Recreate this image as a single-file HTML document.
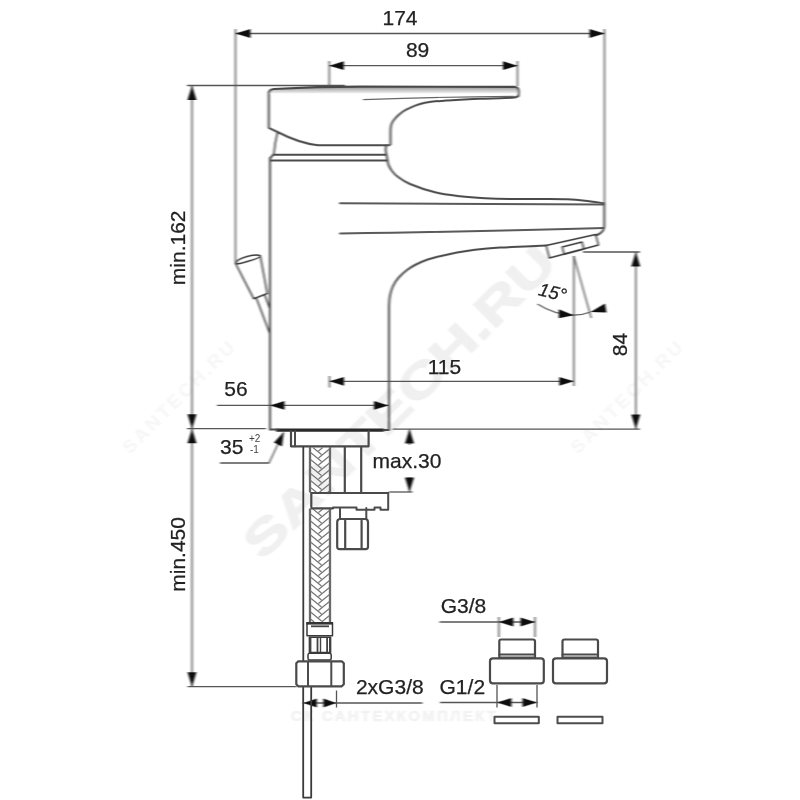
<!DOCTYPE html>
<html lang="ru">
<head>
<meta charset="utf-8">
<title>Смеситель — габаритный чертёж</title>
<style>
  html, body { margin: 0; padding: 0; background: #fff; }
  body { width: 800px; height: 800px; overflow: hidden; }
  svg { display: block; }
  text { font-family: "Liberation Sans", Arial, sans-serif; fill: #222; }
  #labels text { stroke: #222; stroke-width: 0.25; }
  .dim { stroke: #686868; stroke-width: 1.6; fill: none; }
  .dimh { stroke: #555; stroke-width: 1.3; fill: none; }
  .o { stroke: #4c4c4c; stroke-width: 2; fill: none; stroke-linejoin: round; stroke-linecap: round; }
  .ot { stroke: #666; stroke-width: 1.2; fill: none; stroke-linejoin: round; stroke-linecap: round; }
  .ok { stroke: #4a4a4a; stroke-width: 2.2; fill: none; stroke-linejoin: round; stroke-linecap: round; }
  .od { stroke: #3a3a3a; stroke-width: 1.5; fill: none; stroke-linejoin: round; stroke-linecap: round; }
  .oh { stroke: #5a5a5a; stroke-width: 2; fill: none; stroke-linecap: round; }
  .ar { fill: #111; stroke: none; }
  .wm { fill: #f0f0f0; font-weight: bold; }
  .wm2 { fill: #f6f6f6; font-weight: bold; }
  .t { font-size: 21px; }
  #labels text.ts { font-size: 10px; fill: #444; stroke: none; }

</style>
</head>
<body>
<svg width="800" height="800" viewBox="0 0 800 800">
  <defs>
    <linearGradient id="hg" x1="0" y1="86" x2="0" y2="93.5" gradientUnits="userSpaceOnUse">
      <stop offset="0" stop-color="#8a8a8a"/>
      <stop offset="1" stop-color="#f4f4f4"/>
    </linearGradient>
    <filter id="plain" x="0" y="0" width="800" height="800" filterUnits="userSpaceOnUse">
      <feOffset dx="0" dy="0"/>
    </filter>
    <filter id="soft" x="0" y="0" width="800" height="800" filterUnits="userSpaceOnUse">
      <feGaussianBlur stdDeviation="1 0.01"/>
    </filter>
  </defs>
  <rect width="800" height="800" fill="#fff"/>

  <!-- watermarks -->
  <g id="watermarks" filter="url(#soft)">
    <text class="wm" font-size="47" transform="translate(262.6 561.4) rotate(-45) scale(1.36 1)" stroke="#f0f0f0" stroke-width="1.2">SANTECH.RU</text>
    <text class="wm2" font-size="19" transform="translate(130 455) rotate(-45)" textLength="150">SANTECH.RU</text>
    <text class="wm2" font-size="19" transform="translate(578 455) rotate(-45)" textLength="150">SANTECH.RU</text>
    <text class="wm2" font-size="15" x="291" y="720.5" textLength="205" style="fill:#f2f2f2" stroke="#f2f2f2" stroke-width="0.6">СК САНТЕХКОМПЛЕКТ</text>
  </g>

  <g filter="url(#soft)">
  <!-- dimension lines -->
  <g id="dims">
    <!-- 174 -->
    <path class="dim" d="M235.5 29V264M604.5 29V204"/>
    <path class="dimh" d="M235.5 33.5H604.5"/>
    <!-- 89 -->
    <path class="dim" d="M329.3 61V86M517.5 61V86"/>
    <path class="dimh" d="M329.3 65.7H517.5"/>
    <!-- min.162 / min.450 -->
    <path class="dimh" d="M187 85.5H345"/>
    <path class="dim" d="M192 85.5V686.7"/>
    <path class="dimh" d="M187 428.6H266"/>
    <path class="dimh" d="M187.5 686.7H297"/>
    <!-- 84 -->
    <path class="dimh" d="M583 252H640"/>
    <path class="dim" d="M635.8 252V429"/>
    <path class="dimh" d="M392.5 429.2H640"/>
    <!-- 115 -->
    <path class="dim" d="M329.5 376V387.5M573.8 256V386"/>
    <path class="dimh" d="M329.5 381.3H573.8"/>
    <!-- 56 -->
    <path class="dimh" d="M217 405.4H389"/>
    <!-- 35 leader -->
    <path class="dimh" d="M220 463H269L283.5 432.5"/>
    <!-- max.30 -->
    <path class="dimh" d="M388.8 492H412.5"/>
    <path class="dim" d="M409.5 429V445M409.5 477V492"/>
    <!-- 2xG3/8 -->
    <path class="dimh" d="M303 703H422.5"/>
    <!-- G3/8 -->
    <path class="dimh" d="M439.5 622H535"/>
    <path class="dim" d="M498.8 617V637M535 617V637"/>
    <!-- G1/2 -->
    <path class="dimh" d="M440 702.5H537"/>
    <!-- 15 deg -->
    <path class="dimh" d="M573.8 256L591.3 318"/>
    <path class="dimh" d="M537.5 304Q555 315 573.8 315.2Q583 315 590.5 312"/>
  </g>

  <!-- arrows -->
  <g id="arrows" class="ar">
    <path d="M235.5 33.5l15 -4.4v8.8z"/>
    <path d="M604.5 33.5l-15 -4.4v8.8z"/>
    <path d="M329.3 65.7l14.5 -4.4v8.8z"/>
    <path d="M517.5 65.7l-14.5 -4.4v8.8z"/>
    <path d="M192 85.5l-4.5 14.5h9z"/>
    <path d="M192 428.8l-4.5 -14.5h9z"/>
    <path d="M192 428.8l-4.5 14.5h9z"/>
    <path d="M192 686.7l-4.5 -14.5h9z"/>
    <path d="M635.8 252l-4.5 14.5h9z"/>
    <path d="M635.8 429l-4.5 -14.5h9z"/>
    <path d="M329.5 381.3l14.5 -4.4v8.8z"/>
    <path d="M573.8 381.3l-14.5 -4.4v8.8z"/>
    <path d="M270 405.4l14.5 -4.4v8.8z"/>
    <path d="M388.5 405.4l-14.5 -4.4v8.8z"/>
    <path d="M409.5 429l-4.5 14.5h9z"/>
    <path d="M409.5 492l-4.5 -14.5h9z"/>
    <path d="M283.8 432l-9.8 10.5l8 4z"/>
    <path d="M303.6 703l13.2 -4.4v8.8z"/>
    <path d="M336.2 703l-12.8 -4.4v8.8z"/>
    <path d="M498.8 622l14.5 -4.4v8.8z"/>
    <path d="M535 622l-14.5 -4.4v8.8z"/>
    <path d="M497 702.5l14.5 -4.4v8.8z"/>
    <path d="M537 702.5l-14.5 -4.4v8.8z"/>
    <path d="M573.8 315.2l-15 -6v9z"/>
    <path d="M590.5 312l14.5 -8.5l1.5 9z"/>
  </g>

  <!-- faucet -->
  <g id="faucet">
    <!-- handle -->
    <path d="M269.5 92Q270 89.4 274 89C300 87.6 330 86.7 360 86.7L514 86.8Q518.5 87 518.6 91.5V93.5H269.5Z" fill="url(#hg)" stroke="none"/>
    <path class="ok" d="M269.3 92Q269.5 89.4 274 89C300 87.6 330 86.7 360 86.7L514 86.8"/>
    <path class="o" d="M268.8 92V127.8L277.5 132Q300 143.5 318 145.2H389.5"/>
    <path class="o" d="M514 86.8Q518.8 87 518.8 91.5Q518.8 95 518.3 96"/>
    <path class="o" d="M518.3 96.0C517.6 96.3 517.0 97.2 514.0 97.6C510.9 98.0 505.7 98.0 500.0 98.2C494.3 98.4 486.7 98.5 480.0 98.8C473.3 99.1 465.8 99.5 460.0 99.8C454.2 100.1 449.8 100.3 445.0 100.6C440.2 100.9 435.2 101.2 431.0 101.8C426.8 102.4 423.5 103.0 420.0 104.0C416.5 105.0 412.8 106.5 410.0 107.8C407.2 109.0 405.1 110.1 403.0 111.5C400.9 112.9 399.1 114.5 397.5 116.0C395.9 117.5 394.6 119.0 393.5 120.5C392.4 122.0 391.7 123.4 391.2 125.0C390.7 126.6 390.6 129.2 390.5 130.0V144.3"/>
    <path class="ot" d="M363.5 99.6Q440 96.8 514 96.3"/>
    <!-- neck and ring -->
    <path class="od" d="M277.5 132.5Q274.8 143 273.8 154.5"/>
    <path class="o" d="M273 154.8H386M270.5 160.4H387.5M273 154.8L270 158.5M386 145.5Q385 150 386.5 155L387.5 160"/>
    <!-- body -->
    <path class="o" d="M270 158.5V429.5"/>
    <path d="M276 430.2H384" stroke="#2a2a2a" stroke-width="3.2" fill="none"/><path class="o" d="M270 429.6H277M384 430H389"/>
    <path class="o" d="M389 429.5V306"/>
    <path class="o" d="M389.0 306.0C389.1 304.7 389.2 300.7 389.6 298.0C390.0 295.3 390.6 292.6 391.5 290.0C392.4 287.4 393.6 284.8 395.0 282.5C396.4 280.2 398.0 278.4 400.0 276.3C402.0 274.2 404.5 271.9 407.0 270.0C409.5 268.1 411.7 266.7 415.0 265.0C418.3 263.3 422.8 261.3 427.0 259.8C431.2 258.3 435.0 257.4 440.0 256.2C445.0 255.0 451.2 253.6 457.0 252.5C462.8 251.4 467.8 250.5 475.0 249.7C482.2 248.9 491.7 248.1 500.0 247.6C508.3 247.1 517.3 246.7 525.0 246.4C532.7 246.1 542.5 245.7 546.0 245.6"/>
    <!-- spout -->
    <path class="o" d="M387.3 160.5C387.6 161.3 388.0 163.8 388.8 165.5C389.6 167.2 390.6 169.2 392.0 171.0C393.4 172.8 394.5 174.3 397.5 176.5C400.5 178.7 403.8 181.4 410.0 184.0C416.2 186.6 426.7 190.2 435.0 192.3C443.3 194.4 451.7 195.3 460.0 196.3C468.3 197.3 476.7 197.8 485.0 198.2C493.3 198.6 500.8 198.8 510.0 198.9C519.2 199.0 530.5 198.9 540.0 199.0C549.5 199.1 559.5 199.0 567.0 199.3C574.5 199.6 578.9 200.0 585.0 200.7C591.1 201.3 600.7 202.8 603.8 203.2"/>
    <path class="oh" d="M340 203.3L604 204.4"/>
    <path class="oh" d="M340 233.6Q500 231 604 228"/>
    <path class="o" d="M604.3 204V226Q604.3 230.5 600 233.5L596 235.5"/>
    <!-- aerator -->
    <path class="od" d="M546.2 245.6L595.6 234.4L598.5 245L549.4 258Z"/>
    <path class="od" d="M564 253.8L562.2 247L582 242L583.8 248.8"/>
    <path class="od" d="M564 254.2L583.8 249"/>
    <!-- pop-up knob -->
    <path class="od" d="M236 263.5Q236 259.5 247 256.5Q258 254 260.3 255.8Q260.5 257.5 249 261Q239 264.2 236.2 264Z"/>
    <path class="od" d="M235.8 264L253.8 298.8L267.3 293.5L260.3 256"/>
    <path class="od" d="M256.5 298.5L269.6 333M265 295.5L269.6 308"/>
  </g>

  </g>

  <!-- dimension texts -->
  <g id="labels" class="t" filter="url(#plain)">
    <text x="400" y="25.2" text-anchor="middle">174</text>
    <text x="417.6" y="57" text-anchor="middle">89</text>
    <text transform="translate(184.5 247.8) rotate(-90)" text-anchor="middle">min.162</text>
    <text transform="translate(185 554.4) rotate(-90)" text-anchor="middle">min.450</text>
    <text transform="translate(627 344.6) rotate(-90)" text-anchor="middle">84</text>
    <text x="444.4" y="373.8" text-anchor="middle">115</text>
    <text x="236" y="396.3" text-anchor="middle">56</text>
    <text x="231.8" y="453.8" text-anchor="middle">35</text>
    <text class="ts" x="249" y="442">+2</text>
    <text class="ts" x="250" y="453">-1</text>
    <text x="407" y="468" text-anchor="middle">max.30</text>
    <text x="389.8" y="693.8" text-anchor="middle">2xG3/8</text>
    <text x="463.4" y="612.5" text-anchor="middle">G3/8</text>
    <text x="462.3" y="693.8" text-anchor="middle">G1/2</text>
    <text transform="translate(537.5 295) rotate(14)" font-style="italic" font-size="18.5">15°</text>
  </g>

  <!-- under-sink parts -->
  <g id="mount">
    <path class="ok" d="M291 431V446.3H368.6V431"/>
    <path class="o" d="M295 431V446.3"/>
    <!-- rigid pipe -->
    <path class="od" style="stroke-width:1.8" d="M303.3 447V661M303.2 687V797.6H311.2V687"/>
    <path class="dimh" d="M336.5 690.5V707.5M497 685V707.5M537 685V707.5"/>
    <!-- hose -->
    <path stroke="#6a6a6a" stroke-width="2.3" fill="none" d="M310 447V492.5M330 447V492.5M310 508.5V622M330 508.5V622"/>
    <path stroke="#777" stroke-width="1.2" fill="none" d="M322.8 447.5 L318.5 451.0M312.9 447.5 L321.5 454.5M329.5 449.0 L318.5 458.0M310.5 452.5 L321.5 461.5M329.5 456.0 L318.5 465.0M310.5 459.5 L321.5 468.5M329.5 463.0 L318.5 472.0M310.5 466.5 L321.5 475.5M329.5 470.0 L318.5 479.0M310.5 473.5 L321.5 482.5M329.5 477.0 L318.5 486.0M310.5 480.5 L321.5 489.5M329.5 484.0 L319.4 492.3M310.5 487.5 L316.4 492.3M329.5 491.0 L327.9 492.3M322.8 509.0 L318.5 512.5M312.9 509.0 L321.5 516.0M329.5 510.5 L318.5 519.5M310.5 514.0 L321.5 523.0M329.5 517.5 L318.5 526.5M310.5 521.0 L321.5 530.0M329.5 524.5 L318.5 533.5M310.5 528.0 L321.5 537.0M329.5 531.5 L318.5 540.5M310.5 535.0 L321.5 544.0M329.5 538.5 L318.5 547.5M310.5 542.0 L321.5 551.0M329.5 545.5 L318.5 554.5M310.5 549.0 L321.5 558.0M329.5 552.5 L318.5 561.5M310.5 556.0 L321.5 565.0M329.5 559.5 L318.5 568.5M310.5 563.0 L321.5 572.0M329.5 566.5 L318.5 575.5M310.5 570.0 L321.5 579.0M329.5 573.5 L318.5 582.5M310.5 577.0 L321.5 586.0M329.5 580.5 L318.5 589.5M310.5 584.0 L321.5 593.0M329.5 587.5 L318.5 596.5M310.5 591.0 L321.5 600.0M329.5 594.5 L318.5 603.5M310.5 598.0 L321.5 607.0M329.5 601.5 L318.5 610.5M310.5 605.0 L321.5 614.0M329.5 608.5 L318.5 617.5M310.5 612.0 L321.5 621.0M329.5 615.5 L321.6 622.0M310.5 619.0 L314.2 622.0"/>
    <!-- stud -->
    <path class="ok" d="M344.8 447V492.5M361.2 447V492.5"/>
    <!-- plate -->
    <path class="ok" d="M311.5 493H388.3"/>
    <path class="ok" d="M311.3 493V507"/>
    <path class="ok" d="M311.5 508.3H333"/><path class="o" d="M333 507.4H356.5V509.8H374.5V507.5H380.5V509.8H388.2V493"/>
    <!-- nut -->
    <path class="o" d="M340 508V519H366.3V508"/>
    <path class="ok" d="M339 519.3Q337.2 519.6 337.2 522.5V546.5Q337.2 549.2 339.5 549.2H365.8Q368 549.2 368 546.5V522.5Q368 519.6 366.3 519.3M345.2 520.5V548.5M361.6 520.5V548.5"/>
    <!-- ferrule -->
    <path class="od" d="M307 622.8H332.5V635.8H307Z"/>
    <path d="M306.5 622H333V624.6H306.5Z" fill="#333"/>
    <path d="M311 625.4H329V627.2H311Z" fill="#444"/>
    <path class="od" d="M309.4 637.2H330.6V652.5H309.4Z"/>
    <path d="M309.4 637.5h2v15h-2zM316.6 637.5h1.8v15h-1.8zM319.8 637.5h1.4v15h-1.4zM326.2 637.5h1.8v15h-1.8zM329 637.5h1.8v15h-1.8z" fill="#444"/>
    <path class="od" d="M309.5 653.2H329.5Q331.2 653.2 331.2 655V658.5Q331.2 660 329.5 660H309.5Q308 660 308 658.5V655Q308 653.2 309.5 653.2Z"/>
    <!-- lower nut -->
    <path class="ok" d="M298.3 661.3H341.8L343.8 663.3V684.3L341.8 686.3H298.3L296.3 684.3V663.3Z"/>
    <path class="o" d="M308 662V685.5M331.3 662V685.5"/>
  </g>

  <!-- adapters -->
  <g id="adapters">
    <path class="ok" d="M501 639.5H533Q535 639.5 535 641.5V657.5H499.3V641.5Q499.3 639.5 501 639.5Z"/>
    <path class="ok" d="M499.3 654.5H535"/>
    <path class="ok" d="M493 658.3H541Q543.8 658.3 543.8 661V680.5Q543.8 683.3 541 683.3H493Q490 683.3 490 680.5V661Q490 658.3 493 658.3Z"/>
    <path class="o" d="M494.5 716.8H538.8V723.3H494.5Z"/>
    <path class="ok" d="M564.5 639.5H596Q598 639.5 598 641.5V657.5H562.5V641.5Q562.5 639.5 564.5 639.5Z"/>
    <path class="ok" d="M562.5 654.5H598"/>
    <path class="ok" d="M556 658.3H604Q607 658.3 607 661V680.5Q607 683.3 604 683.3H556Q553 683.3 553 680.5V661Q553 658.3 556 658.3Z"/>
    <path class="o" d="M557.5 716.8H602.5V723.3H557.5Z"/>
  </g>
</svg>
</body>
</html>
